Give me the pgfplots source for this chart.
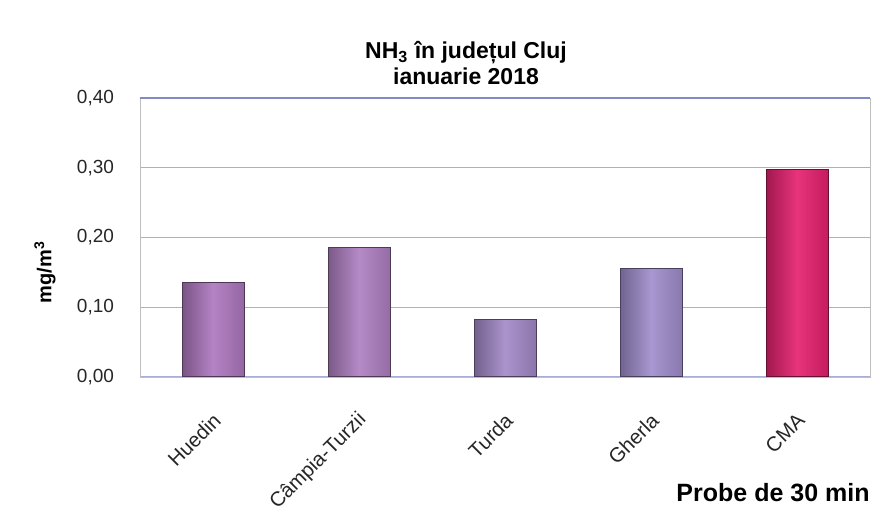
\documentclass[border=0pt]{standalone}
\usepackage{fontspec}
\setmainfont{Liberation Sans}
\usepackage{pgfplots}
\pgfplotsset{compat=1.18}

\definecolor{gridc}{HTML}{A9ADDA}
\definecolor{topc}{HTML}{8389C4}
\definecolor{cHuedin}{HTML}{AE78BF}
\definecolor{cCampia}{HTML}{AF80C2}
\definecolor{cTurda}{HTML}{A48AC8}
\definecolor{cGherla}{HTML}{A08ECC}
\definecolor{cCMA}{HTML}{E6226F}

\pgfplotsset{
  barsty/.style={ybar, bar width=31pt, draw=#1!45!black, line width=0.5pt,
    left color=#1!70!black, right color=#1!85!black, middle color=#1!92!white}
}

\begin{document}
\begin{tikzpicture}
\begin{axis}[
    name=ax,
    scale only axis,
    width=365pt, height=139.5pt,
    xmin=-0.5, xmax=4.5,
    ymin=0, ymax=0.4,
    xtick={0,1,2,3,4},
    xticklabels={Huedin,Câmpia-Turzii,Turda,Gherla,CMA},
    ytick={0,0.1,0.2,0.3,0.4},
    ymajorgrids,
    grid style={gridc, line width=0.7pt},
    axis line style={gray!50},
    tick style={draw=none},
    /pgf/number format/assume math mode=true,
    yticklabel style={/pgf/number format/.cd, fixed, fixed zerofill, precision=2, use comma,
      /tikz/.cd, font=\fontsize{9.5}{11}\selectfont, text=black!85, xshift=-9.5pt},
    xticklabel style={xshift=4.5pt, yshift=-17.5pt, rotate=45, anchor=east,
      font=\fontsize{10.2}{12}\selectfont, text=black!85},
    ylabel={\textbf{mg/m\textsuperscript{3}}},
    ylabel style={at={(axis description cs:-0.13,0.376)}, anchor=center,
      font=\fontsize{10}{12}\selectfont},
]
\addplot[barsty=cHuedin] coordinates {(0,0.135)};
\addplot[barsty=cCampia] coordinates {(1,0.185)};
\addplot[barsty=cTurda] coordinates {(2,0.083)};
\addplot[barsty=cGherla] coordinates {(3,0.156)};
\addplot[barsty=cCMA] coordinates {(4,0.298)};
\draw[topc, line width=0.9pt] (rel axis cs:0,1) -- (rel axis cs:1,1);
\end{axis}
\node[align=center, font=\bfseries\fontsize{11.5}{13}\selectfont]
  at ([shift={(-19.5pt,17.5pt)}]ax.north) {NH\textsubscript{3} în județul Cluj\\ianuarie 2018};
\node[anchor=east, font=\bfseries\fontsize{12.5}{14}\selectfont, inner sep=0pt]
  at ([shift={(0pt,-58pt)}]ax.south east) {Probe de 30 min};
\pgfresetboundingbox
\path[use as bounding box] ([shift={(-70pt,-69.5pt)}]ax.south west)
  rectangle ([shift={(6pt,49pt)}]ax.north east);
\end{tikzpicture}
\end{document}
